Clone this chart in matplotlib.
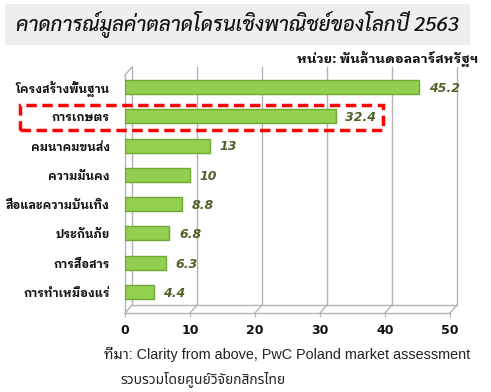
import matplotlib
matplotlib.use("Agg")
import matplotlib.pyplot as plt
import matplotlib.transforms as mtransforms
from matplotlib.patches import Rectangle

categories = ["โครงสร้างพื้นฐาน", "การเกษตร", "คมนาคมขนส่ง", "ความมั่นคง",
              "สื่อและความบันเทิง", "ประกันภัย", "การสื่อสาร", "การทำเหมืองแร่"]
values = [45.2, 32.4, 13, 10, 8.8, 6.8, 6.3, 4.4]
value_labels = ["45.2", "32.4", "13", "10", "8.8", "6.8", "6.3", "4.4"]
xticks = [0, 10, 20, 30, 40, 50]
title = "คาดการณ์มูลค่าตลาดโดรนเชิงพาณิชย์ของโลกปี 2563"
unit = "หน่วย: พันล้านดอลลาร์สหรัฐฯ"
source1 = "ที่มา: Clarity from above, PwC Poland market assessment"
source2 = "รวบรวมโดยศูนย์วิจัยกสิกรไทย"
highlight = 1

THAI_B = ["IBM Plex Sans Thai Looped", "Noto Sans Thai Looped", "DejaVu Sans"]

W, H = 491, 392
fig = plt.figure(figsize=(W / 100, H / 100), dpi=100)

fig.patches.append(Rectangle((5 / W, 1 - 45 / H), 465 / W, 41 / H,
                             transform=fig.transFigure, facecolor="#eeeeee",
                             edgecolor="none", zorder=0))
fig.text(237 / W, 1 - 25 / H, title, ha="center", va="center",
         fontsize=14.6, family=["Sarabun", "DejaVu Sans"], style="italic",
         weight="medium", color="#111111")
fig.text(478 / W, 1 - 59 / H, unit, ha="right", va="center", fontsize=9.6,
         family=THAI_B, weight="bold", color="#111111")

left, right, top, bottom = 125, 450, 75, 313
ax = fig.add_axes([left / W, 1 - bottom / H, (right - left) / W, (bottom - top) / H])
ax.set_xlim(0, 50)
ax.set_ylim(7.72, -0.41)
for s in ["top", "right", "bottom", "left"]:
    ax.spines[s].set_visible(False)

dx, dy = 7, 8
back = mtransforms.offset_copy(ax.transData, fig=fig, x=dx, y=dy, units="dots")
grid_col = "#b3b3b3"
ylo, yhi = 7.72, -0.41
for t in xticks:
    ax.plot([t, t], [ylo, yhi], color=grid_col, lw=1, transform=back,
            clip_on=False, zorder=1)
    p0 = ax.transData.transform((t, ylo))
    ax.plot([p0[0], p0[0] + dx], [p0[1], p0[1] + dy], color=grid_col, lw=1,
            transform=None, clip_on=False, zorder=1)
ax.plot([0, 50], [ylo, ylo], color=grid_col, lw=1, transform=back,
        clip_on=False, zorder=1)
ax.plot([0, 0], [ylo, yhi], color=grid_col, lw=1, clip_on=False, zorder=1)
ax.plot([0, 50], [ylo, ylo], color=grid_col, lw=1, clip_on=False, zorder=1)
p0 = ax.transData.transform((0, yhi))
ax.plot([p0[0], p0[0] + dx], [p0[1], p0[1] + dy], color=grid_col, lw=1,
        transform=None, clip_on=False, zorder=1)

ypos = list(range(len(categories)))
ax.barh(ypos, values, height=0.48, color="#92d050", edgecolor="#6fa834",
        linewidth=1, zorder=3)
for y, v, lab in zip(ypos, values, value_labels):
    ax.annotate(lab, (v, y), xytext=(7, -1), textcoords="offset points",
                ha="left", va="center", fontsize=9, weight="bold",
                style="italic", color="#4f6228", family="DejaVu Sans",
                zorder=4)

ax.set_yticks(ypos)
ax.set_yticklabels(categories, fontsize=8.5, weight="bold", family=THAI_B,
                   color="#111111")
ax.tick_params(axis="y", length=0, pad=11)
ax.set_xticks(xticks)
ax.set_xticklabels([str(t) for t in xticks], fontsize=9, weight="bold",
                   family="DejaVu Sans", color="#111111")
ax.tick_params(axis="x", length=3, color=grid_col, pad=5)

hb = Rectangle((20 / W, 1 - 130 / H), 363 / W, 25 / H, transform=fig.transFigure,
               facecolor="none", edgecolor="#ff0000", lw=2.5,
               linestyle=(0, (3, 1.6)), zorder=10)
fig.patches.append(hb)

fig.text(104 / W, 1 - 355 / H, source1, ha="left", va="center", fontsize=10.4,
         family=["Liberation Sans", "Noto Sans Thai Looped"], color="#222222")
fig.text(120 / W, 1 - 379 / H, source2, ha="left", va="center", fontsize=10,
         family=["Noto Sans Thai", "DejaVu Sans"], color="#222222")

fig.savefig("out.png", dpi=100)
